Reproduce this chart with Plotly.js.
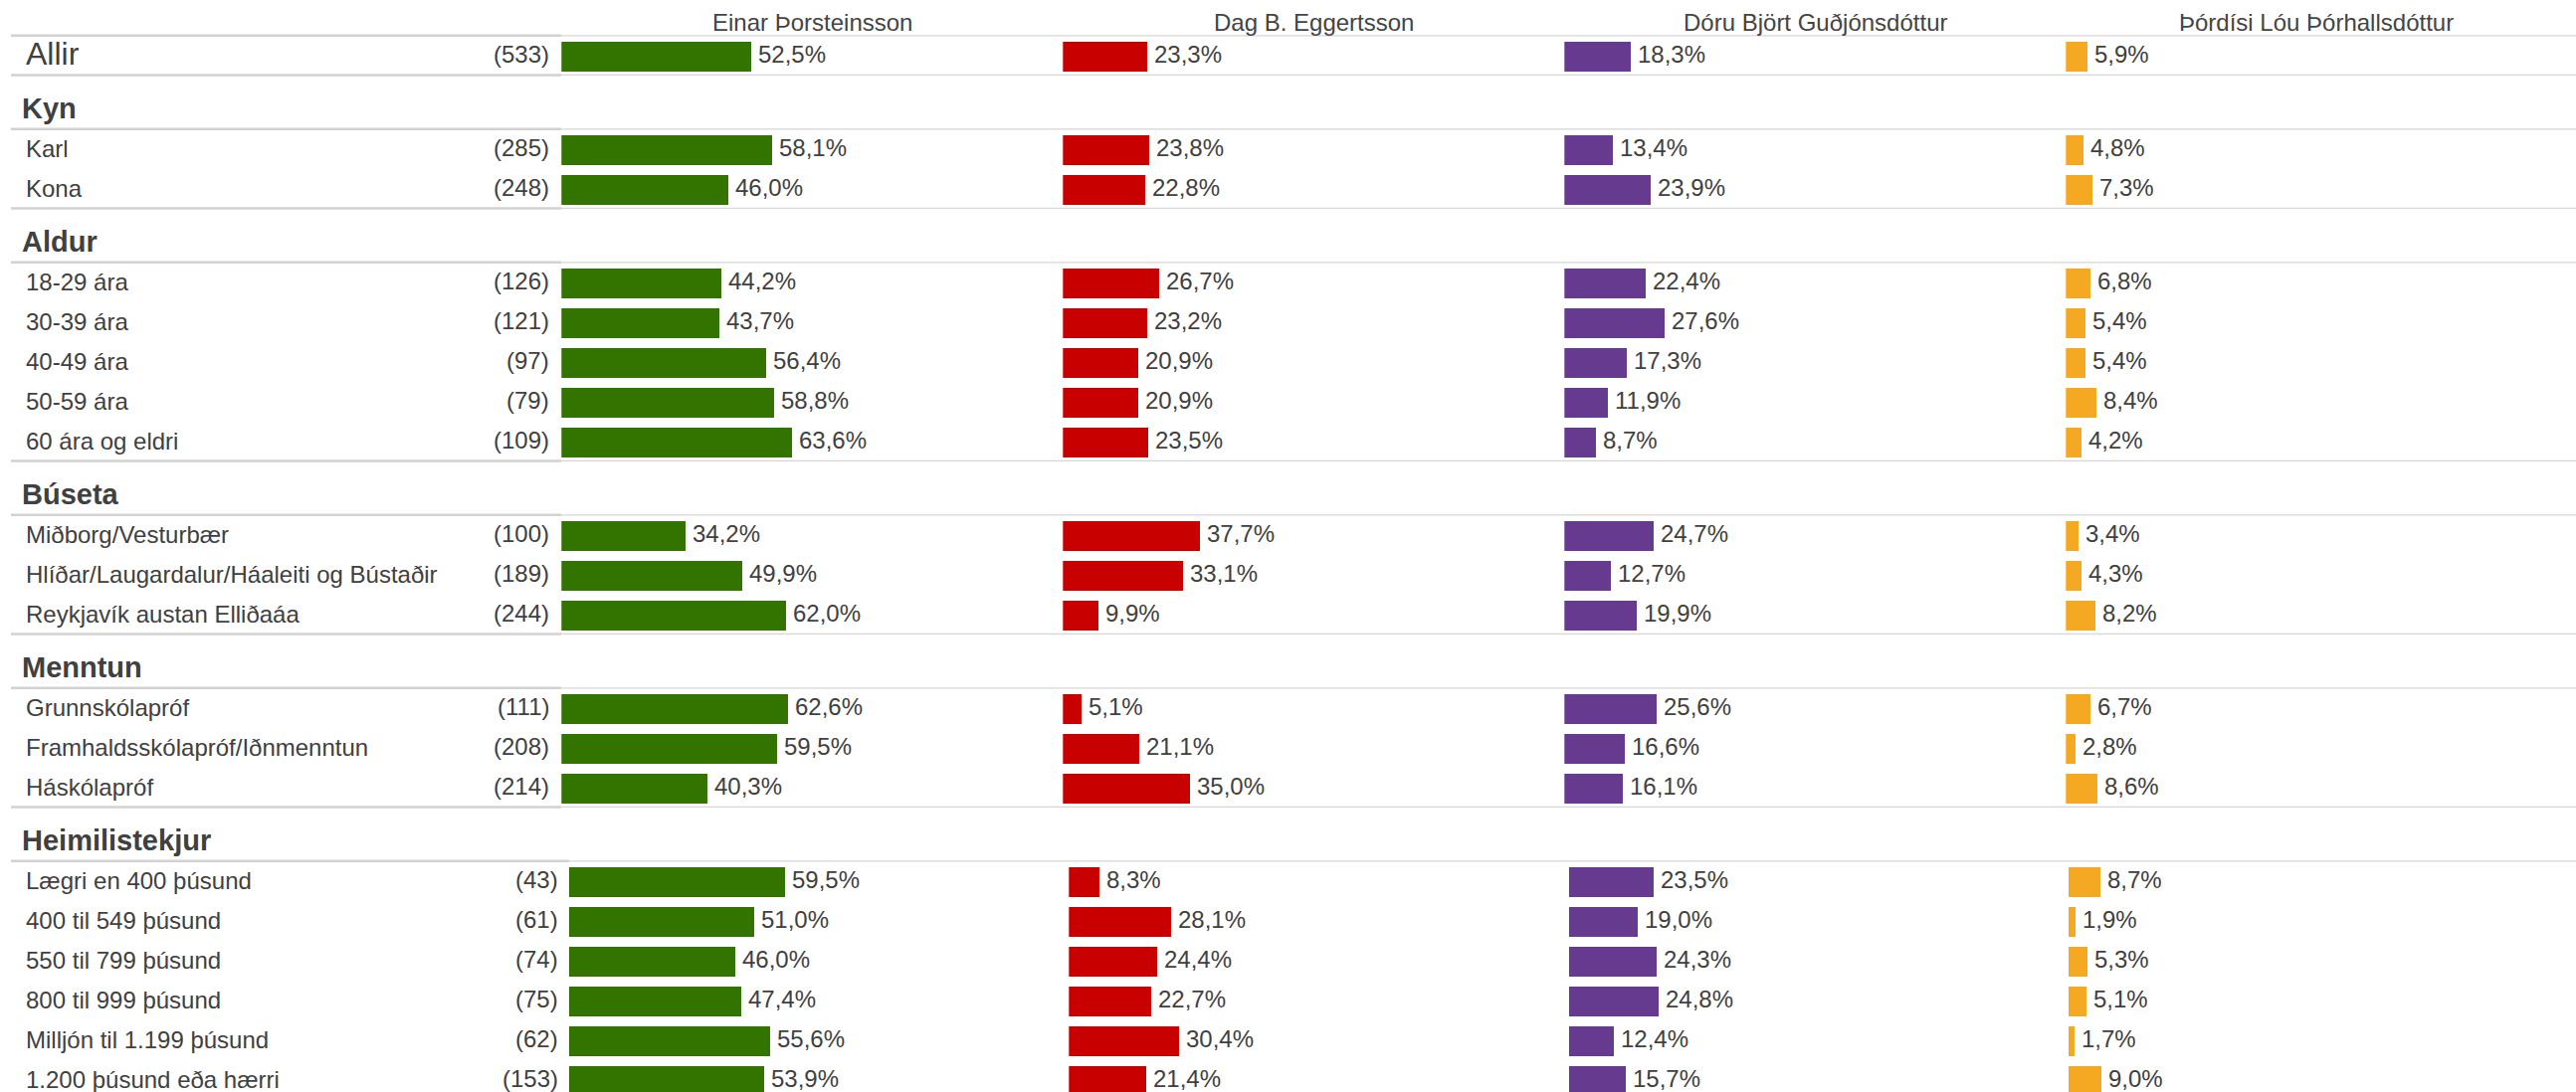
<!DOCTYPE html>
<html>
<head>
<meta charset="utf-8">
<script src="https://cdn.plot.ly/plotly-3.0.1.min.js"></script>
<style>html,body{margin:0;padding:0;background:#fff;}#chart{width:2589px;height:1098px;}</style>
</head>
<body>
<div id="chart"></div>
<script>
// ---- data ----
const candidates = ['Einar Þorsteinsson', 'Dag B. Eggertsson', 'Dóru Björt Guðjónsdóttur', 'Þórdísi Lóu Þórhallsdóttur'];
const groups = ['', 'Kyn', 'Aldur', 'Búseta', 'Menntun', 'Heimilistekjur'];
const categories = ['Allir', 'Karl', 'Kona', '18-29 ára', '30-39 ára', '40-49 ára', '50-59 ára', '60 ára og eldri',
  'Miðborg/Vesturbær', 'Hlíðar/Laugardalur/Háaleiti og Bústaðir', 'Reykjavík austan Elliðaáa',
  'Grunnskólapróf', 'Framhaldsskólapróf/Iðnmenntun', 'Háskólapróf',
  'Lægri en 400 þúsund', '400 til 549 þúsund', '550 til 799 þúsund', '800 til 999 þúsund', 'Milljón til 1.199 þúsund', '1.200 þúsund eða hærri'];
const groupOf = [0, 1, 1, 2, 2, 2, 2, 2, 3, 3, 3, 4, 4, 4, 5, 5, 5, 5, 5, 5];
const counts = [533, 285, 248, 126, 121, 97, 79, 109, 100, 189, 244, 111, 208, 214, 43, 61, 74, 75, 62, 153];
const einar = [52.5, 58.1, 46.0, 44.2, 43.7, 56.4, 58.8, 63.6, 34.2, 49.9, 62.0, 62.6, 59.5, 40.3, 59.5, 51.0, 46.0, 47.4, 55.6, 53.9];
const dagur = [23.3, 23.8, 22.8, 26.7, 23.2, 20.9, 20.9, 23.5, 37.7, 33.1, 9.9, 5.1, 21.1, 35.0, 8.3, 28.1, 24.4, 22.7, 30.4, 21.4];
const dora = [18.3, 13.4, 23.9, 22.4, 27.6, 17.3, 11.9, 8.7, 24.7, 12.7, 19.9, 25.6, 16.6, 16.1, 23.5, 19.0, 24.3, 24.8, 12.4, 15.7];
const thordis = [5.9, 4.8, 7.3, 6.8, 5.4, 5.4, 8.4, 4.2, 3.4, 4.3, 8.2, 6.7, 2.8, 8.6, 8.7, 1.9, 5.3, 5.1, 1.7, 9.0];
const series = [einar, dagur, dora, thordis];
const colors = ['#337300', '#C80000', '#663A8E', '#F5A821'];

// ---- layout constants ----
const W = 2589, H = 1098;
const FONT = '"Liberation Sans", Arial, sans-serif';
const TXT = '#404040';
const colStartTop = 564.3, colStartLast = 572.0; // px where bars start
const colStep = 504, colStepLast = 502.3, pxPerPct = 3.64;
const LAST = 5;

// row positions (row units, 1 unit = 40px)
const pos = [];
let p = 0;
for (let i = 0; i < categories.length; i++) {
  if (i > 0) p += (groupOf[i] !== groupOf[i - 1]) ? 2.35 : 1;
  pos.push(p);
}
const firstIdx = {}, lastIdx = {};
groupOf.forEach((g, i) => { if (firstIdx[g] === undefined) firstIdx[g] = i; lastIdx[g] = i; });

const fmt = v => v.toFixed(1).replace('.', ',') + '%';

// axes
const layout = {
  width: W, height: H,
  margin: {l: 0, r: 0, t: 0, b: 0},
  paper_bgcolor: '#ffffff', plot_bgcolor: 'rgba(0,0,0,0)',
  showlegend: false, hovermode: false, bargap: 0,
  font: {family: FONT, color: TXT, size: 24},
  yaxis: {range: [(H - 57) / 40, -57 / 40], visible: false, showgrid: false, zeroline: false, fixedrange: true},
  shapes: [], annotations: []
};
const colWidthPx = colStep;
for (let k = 0; k < 4; k++) {
  const s1 = colStartTop + colStep * k;
  const s2 = colStartLast + colStepLast * k;
  const ax = {visible: false, showgrid: false, zeroline: false, fixedrange: true};
  layout['xaxis' + (k === 0 ? '' : (k + 1))] = Object.assign({}, ax, {domain: [s1 / W, Math.min(1, (s1 + colWidthPx) / W)], range: [0, colWidthPx / pxPerPct], anchor: 'y'});
  layout['xaxis' + (k + 5)] = Object.assign({}, ax, {domain: [s2 / W, Math.min(1, (s2 + colWidthPx) / W)], range: [0, colWidthPx / pxPerPct], anchor: 'y'});
}

// traces
const traces = [];
for (let k = 0; k < 4; k++) {
  [false, true].forEach(isLast => {
    const idx = categories.map((c, i) => i).filter(i => (groupOf[i] === LAST) === isLast);
    const axName = isLast ? 'x' + (k + 5) : (k === 0 ? 'x' : 'x' + (k + 1));
    traces.push({
      type: 'bar', orientation: 'h',
      x: idx.map(i => series[k][i]),
      y: idx.map(i => pos[i]),
      width: 0.74,
      xaxis: axName, yaxis: 'y',
      marker: {color: colors[k], line: {width: 0}},
      hoverinfo: 'skip'
    });
    idx.forEach(i => {
      layout.annotations.push({
        x: series[k][i], y: pos[i], xref: axName, yref: 'y',
        text: fmt(series[k][i]), showarrow: false, xanchor: 'left', yanchor: 'middle',
        xshift: 5, yshift: 3, font: {family: FONT, size: 24, color: TXT}
      });
    });
  });
  // candidate header
  layout.annotations.push({
    x: 0.5, y: -0.875, xref: (k === 0 ? 'x' : 'x' + (k + 1)) + ' domain', yref: 'y',
    text: candidates[k], showarrow: false, xanchor: 'center', yanchor: 'middle',
    font: {family: FONT, size: 24, color: '#444444'}
  });
}

// row labels and counts
categories.forEach((c, i) => {
  const isAll = groupOf[i] === 0;
  layout.annotations.push({
    x: 24 / W, y: pos[i], xref: 'paper', yref: 'y', text: c, showarrow: false,
    xanchor: 'left', yanchor: 'middle', yshift: isAll ? 3 : 2,
    font: {family: FONT, size: isAll ? 32 : 24, color: TXT}
  });
  layout.annotations.push({
    x: (groupOf[i] === LAST ? 563 : 554) / W, y: pos[i], xref: 'paper', yref: 'y', text: '(' + counts[i] + ')', showarrow: false,
    xanchor: 'right', yanchor: 'middle', yshift: 3,
    font: {family: FONT, size: 24, color: TXT}
  });
});

// group headers and separator lines
function sepLine(y, leftEnd) {
  layout.shapes.push({type: 'line', xref: 'paper', yref: 'y', x0: 11 / W, x1: leftEnd / W, y0: y, y1: y,
    line: {color: '#d2d2d2', width: 2.5}});
  layout.shapes.push({type: 'line', xref: 'paper', yref: 'y', x0: leftEnd / W, x1: 1, y0: y, y1: y,
    line: {color: '#d6d6d6', width: 1.3}});
}
groups.forEach((g, gi) => {
  const f = firstIdx[gi], l = lastIdx[gi];
  const leftEnd = gi === LAST ? colStartLast : colStartTop;
  if (g) {
    layout.annotations.push({
      x: 20 / W, y: pos[f] - 1.0, xref: 'paper', yref: 'y', text: '<b>' + g + '</b>', showarrow: false,
      xanchor: 'left', yanchor: 'middle', yshift: 2, font: {family: FONT, size: 29, color: TXT}
    });
  }
  sepLine(pos[f] - 0.53, leftEnd);
  sepLine(pos[l] + 0.46, leftEnd);
});

Plotly.newPlot('chart', traces, layout, {displayModeBar: false, staticPlot: true});
</script>
</body>
</html>
